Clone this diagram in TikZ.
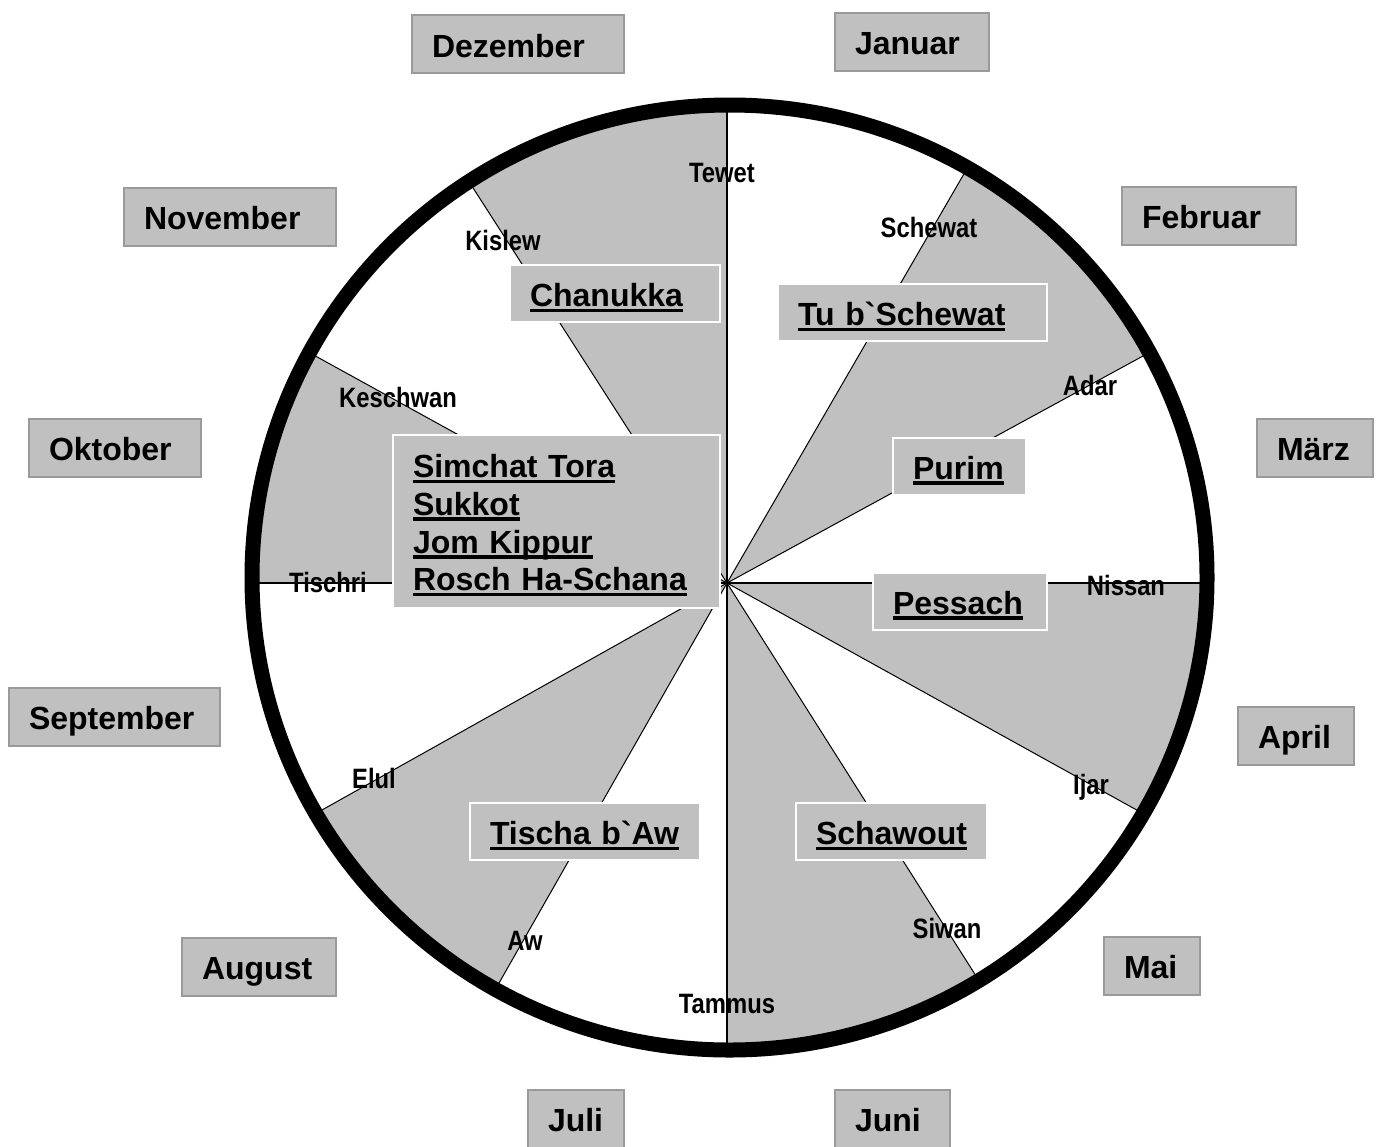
\documentclass[tikz,border=0pt]{standalone}
\usepackage{fontspec}
\usetikzlibrary{calc}
\newfontfamily\boxfont{Liberation Sans}[Ligatures=TeXOff]
\newfontfamily\spokefont{Liberation Sans}[FakeStretch=0.85,Ligatures=TeXOff]
\definecolor{fillgray}{HTML}{C0C0C0}
\definecolor{edgegray}{HTML}{9A9A9A}
\newcommand\hul[1]{\leavevmode\setbox0\hbox{#1}\rlap{\rule[-5.5pt]{\wd0}{3.5pt}}\box0}
\begin{document}
\begin{tikzpicture}[x=1pt,y=-1pt,
  sector/.style={fill=fillgray},
  spoke/.style={line width=1pt,black},
  axisline/.style={line width=1.8pt,black},
  rim/.style={line width=15pt,black},
  spk/.style={font=\spokefont\bfseries\fontsize{28}{30}\selectfont,inner sep=0pt,anchor=base},
  basebox/.style={fill=fillgray,line width=2pt,inner xsep=20pt,inner ysep=0pt,align=left,
     font=\boxfont\bfseries\fontsize{32}{37.7}\selectfont},
  mbox/.style={basebox,draw=edgegray,text height=26pt,text depth=0pt,minimum height=58pt},
  hbox/.style={basebox,draw=white,text height=26pt,text depth=0pt,minimum height=57pt},
  bigbox/.style={basebox,draw=white,minimum height=173pt}
]
\useasboundingbox (0,0) rectangle (1380,1146);
\fill[white] (0,0) rectangle (1380,1146);
\coordinate (c) at (727,583);
\coordinate (ec) at (729.5,577.5);
% spoke end points on the rim
\coordinate (pTewet) at (727,105);
\coordinate (pSchewat) at (963.3,175);
\coordinate (pAdar) at (1141.7,356.7);
\coordinate (pNissan) at (1207,583);
\coordinate (pIjar) at (1136.7,810);
\coordinate (pSiwan) at (973.3,971.7);
\coordinate (pTammus) at (727,1050);
\coordinate (pAw) at (501.7,978.3);
\coordinate (pElul) at (325,808.3);
\coordinate (pTischri) at (252,583);
\coordinate (pKeschwan) at (316.7,356.7);
\coordinate (pKislew) at (473.3,188.3);

% sectors and spokes
\begin{scope}
  \clip (ec) ellipse [x radius=477.5pt, y radius=472.5pt];
  \foreach \p/\q in {pTewet/pKislew, pSchewat/pAdar, pNissan/pIjar, pSiwan/pTammus, pAw/pElul, pTischri/pKeschwan}{
    \fill[sector] (c) -- ($(c)!1.5!(\p)$) -- ($(c)!1.5!(\q)$) -- cycle;
  }
  \foreach \p in {pSchewat,pAdar,pIjar,pSiwan,pAw,pElul,pKeschwan,pKislew}{
    \draw[spoke] (c) -- ($(c)!1.2!(\p)$);
  }
  \foreach \p in {pTewet,pNissan,pTammus,pTischri}{
    \draw[axisline] (c) -- ($(c)!1.2!(\p)$);
  }
\end{scope}
\draw[rim] (ec) ellipse [x radius=477.5pt, y radius=472.5pt];

% spoke labels
\node[spk] (tewet) at (722,182) {Tewet};
\node[spk] (schewat) at (929,237) {Schewat};
\node[spk] (adar) at (1090,395) {Adar};
\node[spk] (nissan) at (1126,595) {Nissan};
\node[spk] (ijar) at (1091,794) {Ijar};
\node[spk] (siwan) at (947,938) {Siwan};
\node[spk] (tammus) at (727,1013) {Tammus};
\node[spk] (aw) at (525,950) {Aw};
\node[spk] (elul) at (374,788) {Elul};
\node[spk] (tischri) at (328,592) {Tischri};
\node[spk] (keschwan) at (398,407) {Keschwan};
\node[spk] (kislew) at (503,250) {Kislew};

% holiday boxes
\node[hbox,text width=170pt] (chanukka) at (615,293.5) {\hul{Chanukka}};
\node[hbox,text width=229pt] (tubschewat) at (912.5,312.5) {\hul{Tu b`Schewat}};
\node[hbox,text width=93pt] (purim) at (959.5,466) {\hul{Purim}};
\node[hbox,text width=134pt] (pessach) at (960,601) {\hul{Pessach}};
\node[hbox,text width=151pt] (schawout) at (891.5,831.5) {\hul{Schawout}};
\node[hbox,text width=190pt] (tischa) at (585,831.5) {\hul{Tischa b`Aw}};
\node[bigbox,text width=287pt] (herbst) at (556.5,521.5)
  {\rule{0pt}{31pt}\hul{Simchat Tora}\\\hul{Sukkot}\\\hul{Jom Kippur}\\\hul{Rosch Ha-Schana}};

% month boxes
\node[mbox,text width=172pt] (dez) at (518,44) {Dezember};
\node[mbox,text width=114pt] (jan) at (912,41.5) {Januar};
\node[mbox,text width=172pt] (nov) at (230,216.5) {November};
\node[mbox,text width=134pt] (feb) at (1209,215.5) {Februar};
\node[mbox,text width=132pt] (okt) at (115,447.5) {Oktober};
\node[mbox,text width=76pt] (mar) at (1315,447.5) {März};
\node[mbox,text width=171pt] (sep) at (114.5,716.5) {September};
\node[mbox,text width=76pt] (apr) at (1296,735.5) {April};
\node[mbox,text width=114pt] (aug) at (259,966.5) {August};
\node[mbox,text width=56pt] (mai) at (1152,965.5) {Mai};
\node[mbox,text width=56pt] (jul) at (576,1118.5) {Juli};
\node[mbox,text width=75pt] (jun) at (892.5,1118.5) {Juni};
\end{tikzpicture}
\end{document}
